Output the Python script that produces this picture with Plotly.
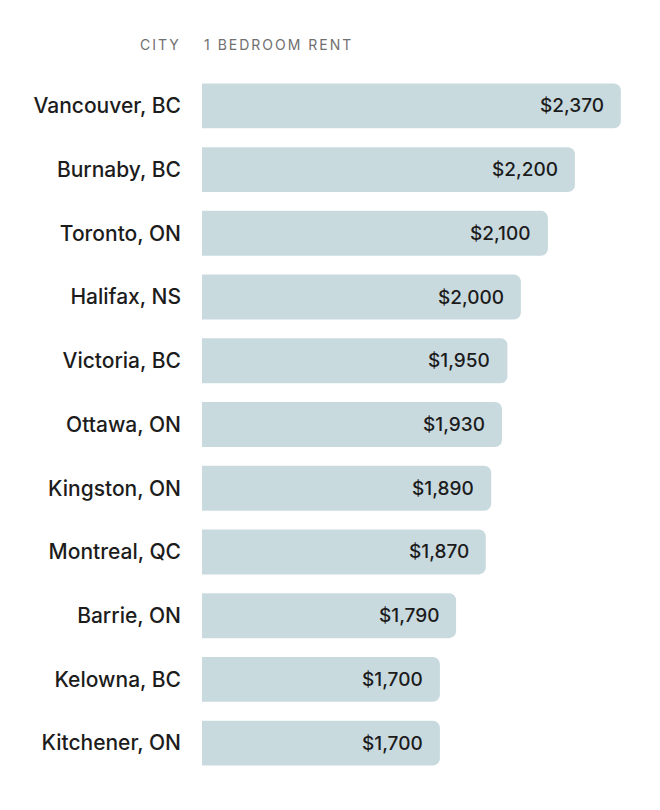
import plotly.graph_objects as go

cities = ["Vancouver, BC", "Burnaby, BC", "Toronto, ON", "Halifax, NS", "Victoria, BC",
          "Ottawa, ON", "Kingston, ON", "Montreal, QC", "Barrie, ON", "Kelowna, BC", "Kitchener, ON"]
# printed rent values
rents = [2370, 2200, 2100, 2000, 1950, 1930, 1890, 1870, 1790, 1700, 1700]
# bar lengths as drawn in the source (Barrie's bar is drawn shorter than its label)
bar_lengths = [2370, 2200, 2100, 2000, 1950, 1930, 1890, 1870, 1760, 1700, 1700]
labels = ["$" + format(v, ",") for v in rents]

FONT = "Inter, Roboto, sans-serif"

fig = go.Figure(go.Bar(
    x=bar_lengths, y=cities, orientation="h",
    marker=dict(color="#c9dadf", line=dict(width=0)),
    hoverinfo="skip",
))

for c, v, t in zip(cities, bar_lengths, labels):
    fig.add_annotation(x=v, y=c, text=t, showarrow=False, xanchor="right", xshift=-15,
                       font=dict(family=FONT, size=19, color="#1c1c1c", weight=500))

HS = '<span style="letter-spacing:2px">{}</span>'
fig.add_annotation(xref="paper", yref="paper", x=0, y=1, xanchor="right", yanchor="bottom",
                   xshift=-19, yshift=19, text=HS.format("CITY"), showarrow=False,
                   font=dict(family=FONT, size=14, color="#707070"))
fig.add_annotation(xref="paper", yref="paper", x=0, y=1, xanchor="left", yanchor="bottom",
                   xshift=0, yshift=19, text=HS.format("1 BEDROOM RENT"), showarrow=False,
                   font=dict(family=FONT, size=14, color="#707070"))

fig.update_layout(
    width=660, height=810,
    margin=dict(l=194, r=28, t=66, b=43),
    paper_bgcolor="white", plot_bgcolor="white",
    bargap=0.295, barcornerradius=7,
    showlegend=False,
    xaxis=dict(range=[819, 2441], visible=False, fixedrange=True),
    yaxis=dict(autorange="reversed", showgrid=False, zeroline=False, showline=False,
               ticks="", ticklabelstandoff=20,
               tickfont=dict(family=FONT, size=21, color="#1c1c1c", weight=500), fixedrange=True),
)

fig.write_html("out.html")
